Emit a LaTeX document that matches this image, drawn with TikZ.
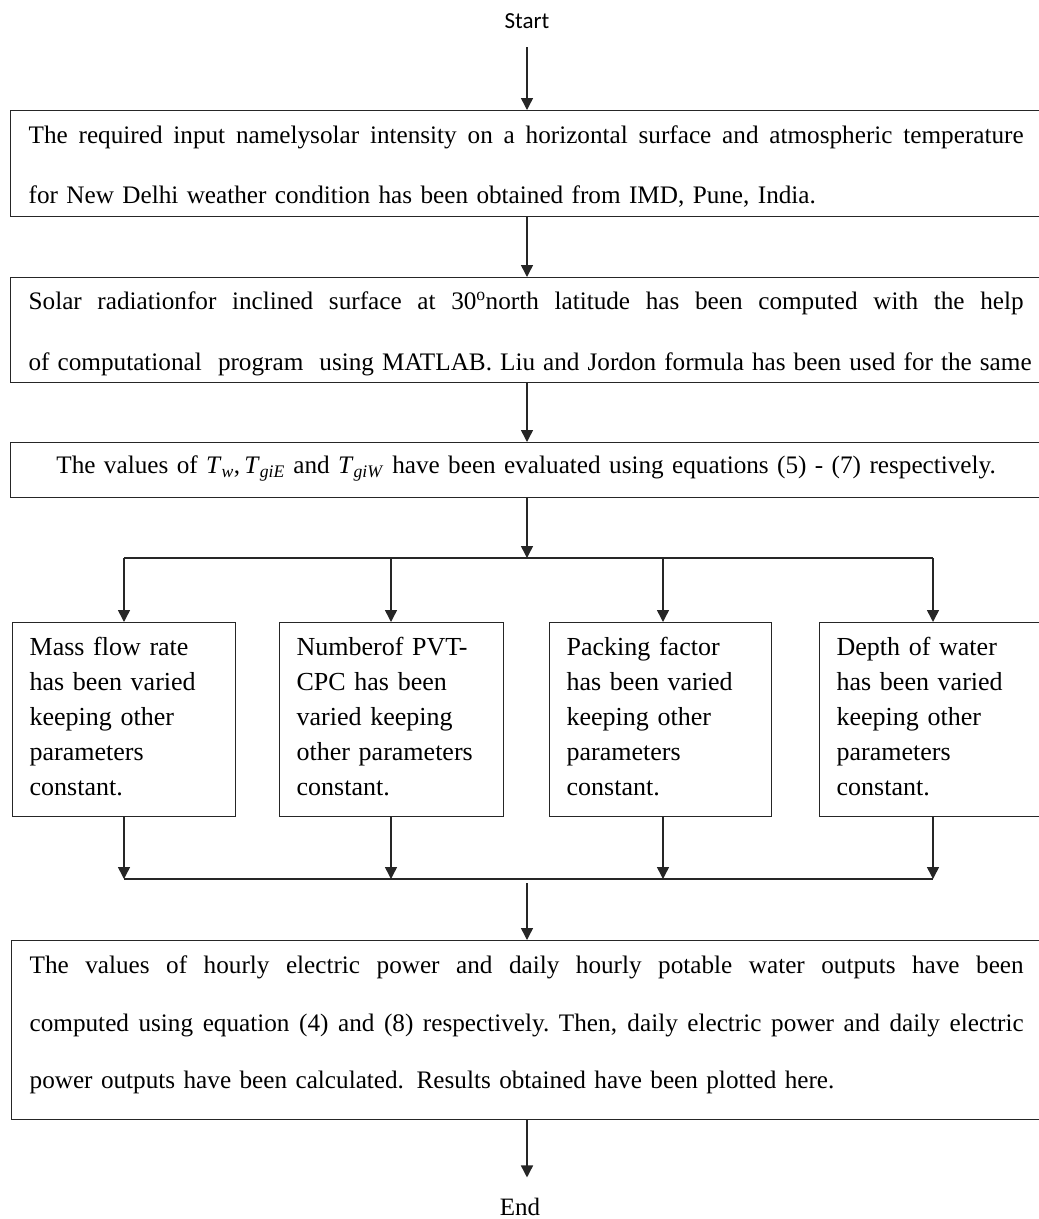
\documentclass[tikz,border=0pt]{standalone}
\usepackage{fontspec}
\setmainfont{Liberation Serif}
\newfontfamily\startfont{Carlito}
\usetikzlibrary{arrows.meta}
\newcommand\tops[1]{\rule{0pt}{#1}}
\newcommand\bots[1]{\rule[-#1]{0pt}{#1}}
\newcommand\Tv[1]{\textit{T}\textsubscript{\textit{#1}}}
\newcommand\jline[2]{\leavevmode\hbox to #1{\spaceskip=0.25em plus 1fil minus 0.1em\relax
  \xspaceskip=0.25em plus 1fil minus 0.1em\relax #2}}
\begin{document}
\begin{tikzpicture}[x=1pt,y=-1pt,
  box/.style={draw=black!85, line width=1.3pt, inner ysep=0pt, inner xsep=18pt,
    anchor=north west, align=left, font=\fontsize{25.2}{60}\selectfont},
  sbox/.style={draw=black!85, line width=1.3pt, inner ysep=0pt, inner xsep=17pt,
    anchor=north west, align=left, font=\fontsize{26}{35}\selectfont},
  arr/.style={draw=black!85, line width=1.5pt, -{Triangle[width=12pt,length=12pt]}},
  ln/.style={draw=black!85, line width=1.5pt}]
\useasboundingbox (0,0) rectangle (1039,1219);

\node[anchor=base, inner sep=0pt, font=\startfont\fontsize{23}{28}\selectfont] (start) at (527,28) {Start};

\node[box, text width=995pt] (box1) at (10,110)
 {\tops{33pt}\jline{995pt}{The required input namelysolar intensity on a horizontal surface and atmospheric temperature}\\
  \makebox[995pt][l]{for New Delhi weather condition has been obtained from IMD, Pune, India.}\bots{13pt}};

\node[box, font=\fontsize{25.2}{61}\selectfont, text width=995pt] (box2) at (10,277)
 {\tops{32pt}\jline{995pt}{Solar radiationfor inclined surface at 30\textsuperscript{o}north latitude has been computed with the help}\\
  \jline{1003pt}{of computational\ \ program\ \ using MATLAB. Liu and Jordon formula has been used for the same}\bots{12pt}};

\node[box, align=center, text width=995pt] (box3) at (10,442)
 {\tops{31pt}The values of \Tv{w},\,\Tv{giE} and \Tv{giW} have been evaluated using equations (5) - (7) respectively.\bots{24pt}};

\node[sbox, text width=189pt] (s1) at (12,622)
 {\tops{33pt}Mass flow rate\\has been varied\\keeping other\\parameters\\constant.\bots{21pt}};
\node[sbox, text width=190pt] (s2) at (279,622)
 {\tops{33pt}Numberof PVT-\\CPC has been\\varied keeping\\other parameters\\constant.\bots{21pt}};
\node[sbox, text width=188pt] (s3) at (549,622)
 {\tops{33pt}Packing factor\\has been varied\\keeping other\\parameters\\constant.\bots{21pt}};
\node[sbox, text width=188pt] (s4) at (819,622)
 {\tops{33pt}Depth of water\\has been varied\\keeping other\\parameters\\constant.\bots{21pt}};

\node[box, font=\fontsize{25.2}{57.5}\selectfont, text width=994pt] (box5) at (11,940)
 {\tops{33pt}\jline{994pt}{The values of hourly electric power and daily hourly potable water outputs have been}\\
  \jline{994pt}{computed using equation (4) and (8) respectively. Then, daily electric power and daily electric}\\
  \makebox[994pt][l]{power outputs have been calculated. Results obtained have been plotted here.}\bots{31pt}};

\node[anchor=base, inner sep=0pt, font=\fontsize{25}{30}\selectfont] (end) at (520,1215) {End};

\coordinate (cx) at (527,0);
\coordinate (j) at (527,558);
\coordinate (c1) at (124,558);
\coordinate (c2) at (391,558);
\coordinate (c3) at (663,558);
\coordinate (c4) at (933,558);
\coordinate (k) at (527,879);
\coordinate (d1) at (124,879);
\coordinate (d2) at (391,879);
\coordinate (d3) at (663,879);
\coordinate (d4) at (933,879);

\draw[arr, shorten <=19pt] (start.base) -- (start.base |- box1.north);
\draw[arr] (box1.south -| cx) -- (box2.north -| cx);
\draw[arr] (box2.south -| cx) -- (box3.north -| cx);
\draw[arr] (box3.south -| cx) -- (j);
\draw[ln] (c1) -- (c4);
\draw[arr] (c1) -- (c1 |- s1.north);
\draw[arr] (c2) -- (c2 |- s2.north);
\draw[arr] (c3) -- (c3 |- s3.north);
\draw[arr] (c4) -- (c4 |- s4.north);
\draw[arr] (s1.south -| d1) -- (d1);
\draw[arr] (s2.south -| d2) -- (d2);
\draw[arr] (s3.south -| d3) -- (d3);
\draw[arr] (s4.south -| d4) -- (d4);
\draw[ln] (d1) -- (d4);
\draw[arr] ([yshift=-4pt]k) -- (box5.north -| k);
\draw[arr, shorten >=20pt] (box5.south -| cx) -- (end.north -| cx);
\end{tikzpicture}
\end{document}
